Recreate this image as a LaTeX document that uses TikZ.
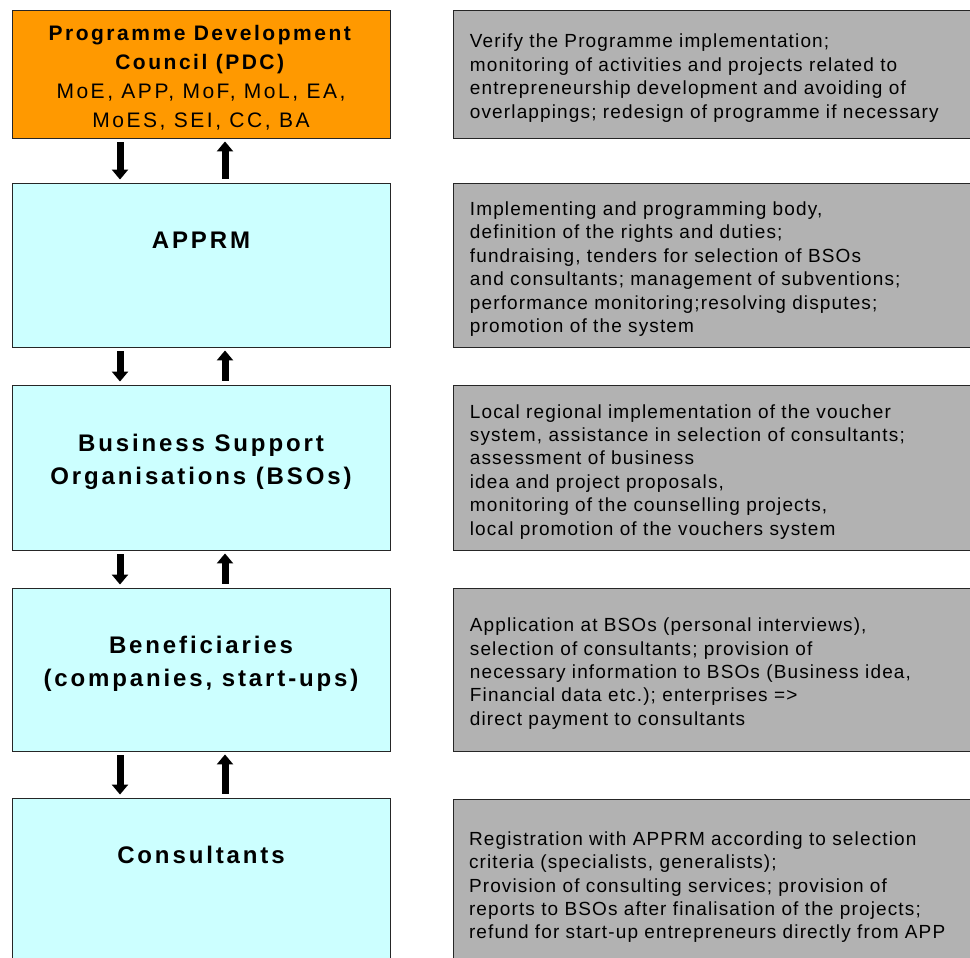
\documentclass[tikz,border=0pt]{standalone}
\usepackage{fontspec}
\setmainfont{Liberation Sans}
\newfontfamily\boxfont[LetterSpace=12]{Liberation Sans}
\newfontfamily\descfont[LetterSpace=6]{Liberation Sans}
\usetikzlibrary{arrows.meta}
\usetikzlibrary{positioning}
\usetikzlibrary{calc}
\definecolor{pdcorange}{RGB}{255, 153, 0}
\definecolor{bodycyan}{RGB}{204, 255, 255}
\definecolor{descgrey}{RGB}{178, 178, 178}

\begin{document}
\begin{tikzpicture}[x=1pt,y=-1pt,
    agency/.style={draw=black!85, line width=0.9pt, fill=bodycyan, minimum width=378pt},
    agencytitle/.style={align=center, inner sep=0pt, font=\boxfont\bfseries\fontsize{24}{33}\selectfont},
    desc/.style={draw=black!85, line width=0.9pt, fill=descgrey, minimum width=540pt,
        text width=508pt, inner xsep=16pt, align=left, font=\descfont\fontsize{19}{23.4}\selectfont,
        execute at begin node=\rule{0pt}{22pt}},
    flow/.style={line width=7pt, -{Triangle[width=16pt,length=10pt]}, shorten >=3pt, shorten <=4pt}]
    \useasboundingbox (0,0) rectangle (970,958);
    \clip (0,0) rectangle (970,958);

    % actors on the left
    \node[agency, fill=pdcorange, minimum height=128pt, align=center,
        font=\boxfont\fontsize{21}{29}\selectfont] (pdc) at (201,74)
        {\rule{0pt}{22.5pt}\textbf{Programme Development}\\\textbf{Council (PDC)}\\MoE, APP, MoF, MoL, EA,\\MoES, SEI, CC, BA};
    \node[agency, minimum height=164pt] (apprm) at (201,265) {};
    \node[agency, minimum height=165pt] (bso) at (201,467.5) {};
    \node[agency, minimum height=163pt] (benef) at (201,669.5) {};
    \node[agency, minimum height=200pt] (cons) at (201,898) {};

    \node[agencytitle] (apprmtitle) at ([yshift=-58pt]apprm.north) {APPRM};
    \node[agencytitle] (bsotitle) at ([yshift=-77.5pt]bso.north) {Business Support\\Organisations (BSOs)};
    \node[agencytitle] (beneftitle) at ([yshift=-76.5pt]benef.north) {Beneficiaries\\(companies, start-ups)};
    \node[agencytitle] (constitle) at ([yshift=-57pt]cons.north) {Consultants};

    % tasks on the right
    \node[desc, right=63pt of pdc, minimum height=128pt] (pdcdesc)
        {Verify the Programme implementation;\\
         monitoring of activities and projects related to\\
         entrepreneurship development and avoiding of\\
         overlappings; redesign of programme if necessary};
    \node[desc, right=63pt of apprm, minimum height=164pt] (apprmdesc)
        {Implementing and programming body,\\
         definition of the rights and duties;\\
         fundraising, tenders for selection of BSOs\\
         and consultants; management of subventions;\\
         performance monitoring;resolving disputes;\\
         promotion of the system};
    \node[desc, right=63pt of bso, minimum height=165pt] (bsodesc)
        {Local regional implementation of the voucher\\
         system, assistance in selection of consultants;\\
         assessment of business\\
         idea and project proposals,\\
         monitoring of the counselling projects,\\
         local promotion of the vouchers system};
    \node[desc, right=63pt of benef, minimum height=163pt] (benefdesc)
        {Application at BSOs (personal interviews),\\
         selection of consultants; provision of\\
         necessary information to BSOs (Business idea,\\
         Financial data etc.); enterprises =>\\
         direct payment to consultants};
    \node[desc, minimum height=168pt] (consdesc) at (723,883)
        {Registration with APPRM according to selection\\
         criteria (specialists, generalists);\\
         Provision of consulting services; provision of\\
         reports to BSOs after finalisation of the projects;\\
         refund for start-up entrepreneurs directly from APP};

    % flows between the levels
    \coordinate (downx) at (120,0);
    \coordinate (upx) at (225,0);
    \foreach \upper/\lower in {pdc/apprm, apprm/bso, bso/benef, benef/cons} {
        \draw[flow] (\upper.south -| downx) -- (\lower.north -| downx);
        \draw[flow] (\lower.north -| upx) -- (\upper.south -| upx);
    }
\end{tikzpicture}
\end{document}
